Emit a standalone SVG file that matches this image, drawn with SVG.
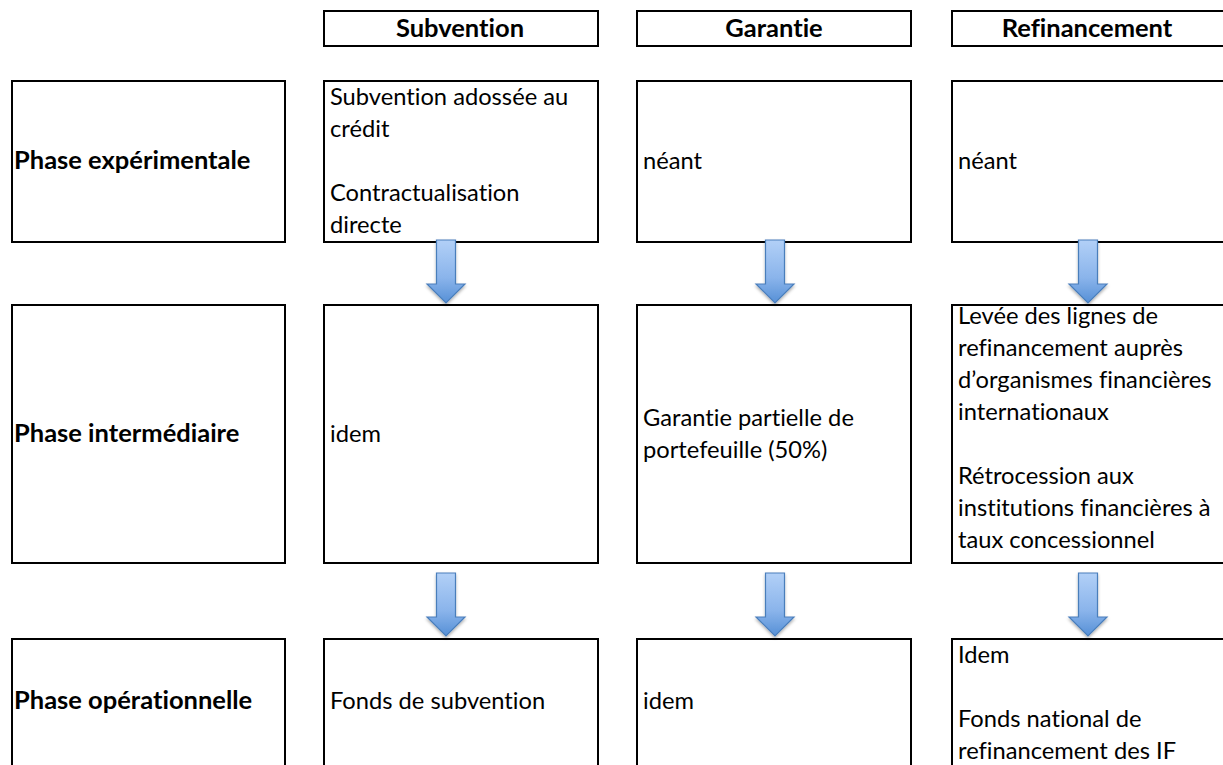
<svg xmlns="http://www.w3.org/2000/svg" width="1223" height="765" viewBox="0 0 1223 765">
<defs>
<style>
.box{fill:#fff;stroke:#000;stroke-width:2}
.t{font-family:Lato,"Liberation Sans",sans-serif;font-size:23.7px;fill:#000;font-variant-ligatures:none}
.b{font-family:Lato,"Liberation Sans",sans-serif;font-size:25.5px;font-weight:bold;fill:#000;font-variant-ligatures:none}
.arrow{fill:url(#ag);stroke:#4a7ebb;stroke-width:1.2;filter:url(#sh)}
</style>
<linearGradient id="ag" x1="0" y1="0" x2="0" y2="1">
<stop offset="0" stop-color="#b2d0f7"/>
<stop offset="0.6" stop-color="#8ab4eb"/>
<stop offset="1" stop-color="#5690d6"/>
</linearGradient>
<filter id="sh" x="-50%" y="-20%" width="200%" height="150%">
<feDropShadow dx="0" dy="2" stdDeviation="1.5" flood-color="#000" flood-opacity="0.3"/>
</filter>
<path id="arr" d="M-9.5 0H9.5V44H19L0 63L-19 44H-9.5Z"/>
</defs>
<rect width="1223" height="765" fill="#fff"/>

<g id="h-subvention"><rect class="box" x="324" y="11" width="274" height="35"/><text class="b" x="460" y="37" text-anchor="middle">Subvention</text></g>
<g id="h-garantie"><rect class="box" x="637" y="11" width="274" height="35"/><text class="b" x="774" y="37" text-anchor="middle">Garantie</text></g>
<g id="h-refinancement"><rect class="box" x="952" y="11" width="274" height="35"/><text class="b" x="1087" y="37" text-anchor="middle">Refinancement</text></g>

<g id="p-experimentale"><rect class="box" x="12" y="81" width="273" height="161"/><text class="b" x="14" y="169">Phase expérimentale</text></g>
<g id="p-intermediaire"><rect class="box" x="12" y="305" width="273" height="258"/><text class="b" x="14" y="442">Phase intermédiaire</text></g>
<g id="p-operationnelle"><rect class="box" x="12" y="639" width="273" height="140"/><text class="b" x="14" y="709">Phase opérationnelle</text></g>

<g id="c-sub-1"><rect class="box" x="324" y="81" width="274" height="161"/><text class="t"><tspan x="330" y="105">Subvention adossée au</tspan><tspan x="330" y="137">crédit</tspan><tspan x="330" y="201">Contractualisation</tspan><tspan x="330" y="233">directe</tspan></text></g>
<g id="c-gar-1"><rect class="box" x="637" y="81" width="274" height="161"/><text class="t" x="643" y="169">néant</text></g>
<g id="c-ref-1"><rect class="box" x="952" y="81" width="274" height="161"/><text class="t" x="958" y="169">néant</text></g>

<g id="c-sub-2"><rect class="box" x="324" y="305" width="274" height="258"/><text class="t" x="330" y="442">idem</text></g>
<g id="c-gar-2"><rect class="box" x="637" y="305" width="274" height="258"/><text class="t"><tspan x="643" y="426">Garantie partielle de</tspan><tspan x="643" y="458">portefeuille (50%)</tspan></text></g>
<g id="c-ref-2"><rect class="box" x="952" y="305" width="274" height="258"/><text class="t"><tspan x="958" y="324">Levée des lignes de</tspan><tspan x="958" y="356">refinancement auprès</tspan><tspan x="958" y="388">d’organismes financières</tspan><tspan x="958" y="420">internationaux</tspan><tspan x="958" y="484">Rétrocession aux</tspan><tspan x="958" y="516">institutions financières à</tspan><tspan x="958" y="548">taux concessionnel</tspan></text></g>

<g id="c-sub-3"><rect class="box" x="324" y="639" width="274" height="140"/><text class="t" x="330" y="709">Fonds de subvention</text></g>
<g id="c-gar-3"><rect class="box" x="637" y="639" width="274" height="140"/><text class="t" x="643" y="709">idem</text></g>
<g id="c-ref-3"><rect class="box" x="952" y="639" width="274" height="140"/><text class="t"><tspan x="958" y="663">Idem</tspan><tspan x="958" y="727">Fonds national de</tspan><tspan x="958" y="759">refinancement des IF</tspan></text></g>

<g id="connectors">
<use href="#arr" class="arrow" x="446" y="240"/>
<use href="#arr" class="arrow" x="775" y="240"/>
<use href="#arr" class="arrow" x="1088" y="240"/>
<use href="#arr" class="arrow" x="446" y="573"/>
<use href="#arr" class="arrow" x="775" y="573"/>
<use href="#arr" class="arrow" x="1088" y="573"/>
</g>
</svg>
